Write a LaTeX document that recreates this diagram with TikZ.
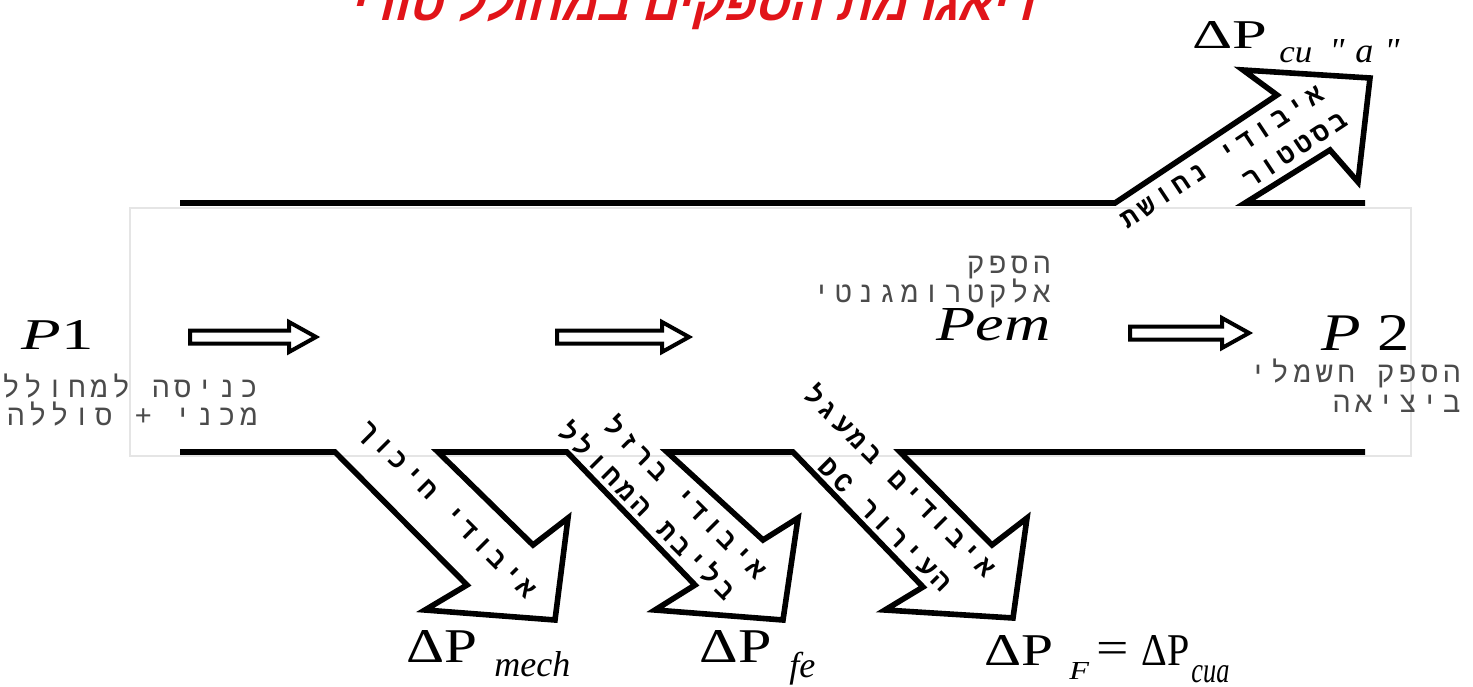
\documentclass[tikz,border=0pt]{standalone}
\usepackage{fontspec}
\setmainfont{Liberation Serif}
\newfontfamily\plainserif{Liberation Serif}
\newfontfamily\hebmono[Script=Hebrew,LetterSpace=16]{Liberation Mono}
\newfontfamily\hebtitle[Script=Hebrew,FakeSlant=0.25]{Liberation Sans}
\TeXXeTstate=1
\definecolor{titlered}{RGB}{225,20,25}
\definecolor{lblgray}{RGB}{75,75,75}
\newcommand\harrow[4]{% name, x1, x2, y
  \draw[hollow] (#2,#4-6.5) coordinate (#1) -- (#3-27,#4-6.5) -- (#3-27,#4-15) -- (#3,#4) -- (#3-27,#4+15) -- (#3-27,#4+6.5) -- (#2,#4+6.5) -- cycle;}
\begin{document}
\begin{tikzpicture}[x=0.5pt,y=-0.5pt,
  flow/.style={line width=2.8pt, line join=miter, miter limit=20},
  hollow/.style={line width=2pt, line join=miter, fill=white},
  outlbl/.style={font=\hebmono\fontsize{14.5}{14}\selectfont, text=lblgray, inner sep=0pt, anchor=base east},
  inlbl/.style={font=\hebmono\bfseries\fontsize{13.5}{19}\selectfont, inner sep=0pt, anchor=center},
  sym/.style={inner sep=0pt, anchor=base west},
  subs/.style={font=\itshape\fontsize{18}{18}\selectfont, inner sep=0pt, anchor=base west}]
\useasboundingbox (0,0) rectangle (1473,686);
% faint frame
\draw[black!10, line width=0.6pt] (130,208) rectangle (1411,456);
% title (cut off at top)
\node[font=\hebtitle\bfseries\fontsize{28}{28}\selectfont, text=titlered, inner sep=0pt, anchor=base] (title) at (692,20) {\resizebox{342pt}{20pt}{\beginR דיאגרמת הספקים במחולל טורי\endR}};
% top flow line with copper loss arrow
\draw[flow] (180,203) coordinate (topL) -- (1115,203) -- (1277,95) -- (1243,70) -- (1370,78) -- (1358,182) -- (1330,150) -- (1245,203) -- (1365,203) coordinate (topR);
% bottom flow line with three loss arrows
\draw[flow] (180,452) coordinate (botL) -- (335,452) -- (467,585) -- (425,610) -- (555,620) -- (568,518) -- (533,545) -- (438,452)
  -- (567,452) -- (695,585) -- (655,610) -- (783,620) -- (798,518) -- (763,540) -- (667,452)
  -- (793,452) -- (923,587) -- (885,610) -- (1013,618) -- (1027,518) -- (992,545) -- (900,452) -- (1365,452) coordinate (botR);
% hollow flow arrows
\harrow{ha1}{190}{316}{337}
\harrow{ha2}{557}{689}{337}
\harrow{ha3}{1130}{1249}{333}
% outside labels
\node[sym] (P1) at (21,349) {\resizebox{36pt}{14.5pt}{\textit{P}1}};
\node[outlbl] (in1) at (258,397) {\beginR כניסה למחולל\endR};
\node[outlbl] (in2) at (258,425) {\beginR מכני + סוללה\endR};
\node[outlbl] (em1) at (1051,273) {\beginR הספק\endR};
\node[outlbl] (em2) at (1051,302) {\beginR אלקטרומגנטי\endR};
\node[sym, anchor=base east] (Pem) at (1051,340) {\resizebox{57pt}{16pt}{\textit{Pem}}};
\node[sym] (P2) at (1321,350) {\resizebox{44pt}{17.5pt}{\textit{P}\hspace{0.25em}2}};
\node[outlbl] (out1) at (1461,382) {\beginR הספק חשמלי\endR};
\node[outlbl] (out2) at (1461,412) {\beginR ביציאה\endR};
% labels inside loss arrows
\node[inlbl, rotate=33.5] (cu1) at (1222,157) {\beginR איבודי נחושת\endR};
\node[inlbl, rotate=33.5] (cu2) at (1295,150) {\beginR בסטטור\endR};
\node[inlbl, rotate=-45] (mech1) at (446,512) {\beginR איבודי חיכוך\endR};
\node[inlbl, rotate=-45] (fe1) at (687,497) {\beginR איבודי ברזל\endR};
\node[inlbl, rotate=-45] (fe2) at (648,510) {\beginR בליבת המחולל\endR};
\node[inlbl, rotate=-45] (F1) at (901,480) {\beginR איבודים במעגל\endR};
\node[inlbl, rotate=-45] (F2) at (885,525) {\beginR העירור \beginL DC\endL\endR};
% loss symbols
\node[sym] (dPcu) at (1192,48) {\resizebox{37.5pt}{13.5pt}{ΔP}};
\node[sym] (cu) at (1279,62) {\resizebox{16.5pt}{7.5pt}{\textit{cu}}};
\node[sym] (cua) at (1329,62) {\resizebox{35pt}{11.5pt}{\plainserif\itshape "\hspace{0.3em}a\hspace{0.3em}"}};
\node[sym] (dPmech) at (406,662) {\resizebox{35.5pt}{16pt}{ΔP}};
\node[subs] (mech) at (494,676) {mech};
\node[sym] (dPfe) at (699,662) {\resizebox{36pt}{16pt}{ΔP}};
\node[subs] (fe) at (789,677) {fe};
\node[sym] (dPF) at (984,665) {\resizebox{34.5pt}{15pt}{ΔP}};
\node[sym] (F) at (1069,679) {\resizebox{10pt}{8.5pt}{\textit{F}}};
\node[inner sep=0pt] (eq) at (1113,653) {\fontsize{23}{23}\selectfont\scalebox{1.25}[1]{=}};
\node[sym] (dPcua) at (1141,665) {\resizebox{24pt}{15pt}{ΔP}};
\node[sym] (cuaF) at (1191,682) {\resizebox{19pt}{8.5pt}{\textit{cua}}};
\end{tikzpicture}
\end{document}
